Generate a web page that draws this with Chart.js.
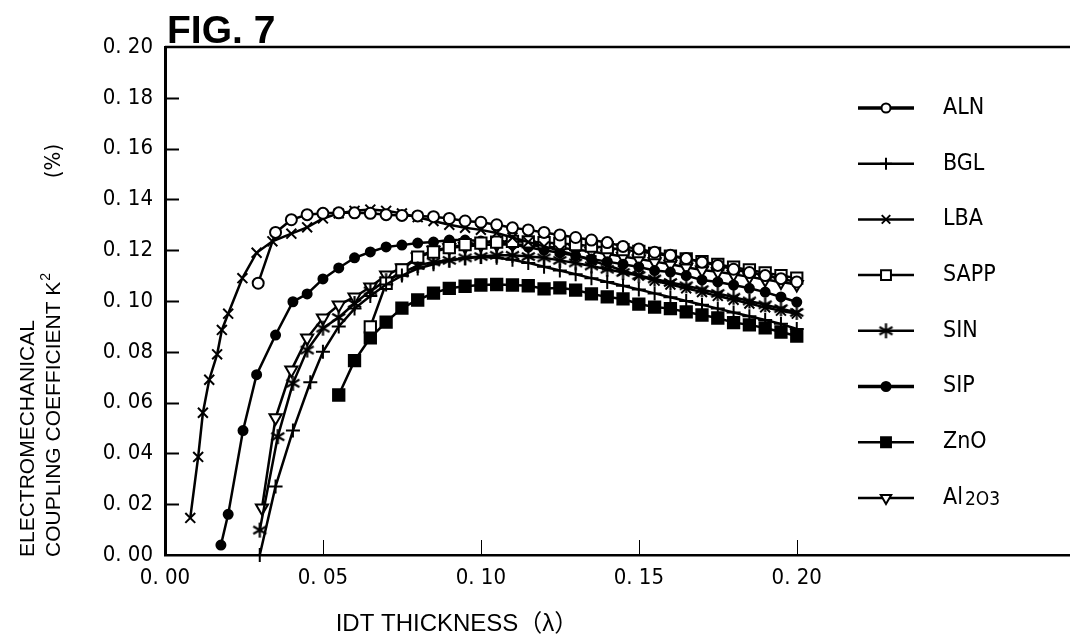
<!DOCTYPE html>
<html>
<head>
<meta charset="utf-8">
<script src="https://cdn.jsdelivr.net/npm/chart.js@4/dist/chart.umd.min.js"></script>
<style>
  html, body { margin: 0; padding: 0; background: #fff; }
  #wrap { width: 1070px; height: 643px; }
</style>
</head>
<body>
<div id="wrap"><canvas id="fig7" width="1070" height="643"></canvas></div>
<script>
// ── FIG. 7 : coupling coefficient vs IDT thickness ──
const xTicks = [0, 0.05, 0.10, 0.15, 0.20];
const yTicks = [0, 0.02, 0.04, 0.06, 0.08, 0.10, 0.12, 0.14, 0.16, 0.18, 0.20];
const seriesNames = ['ALN', 'BGL', 'LBA', 'SAPP', 'SIN', 'SIP', 'ZnO', 'Al2O3'];

const alnX = [0.0295, 0.035, 0.040, 0.045, 0.050, 0.055, 0.060, 0.065, 0.070, 0.075, 0.080, 0.085, 0.090, 0.095, 0.100, 0.105, 0.110, 0.115, 0.120, 0.125, 0.130, 0.135, 0.140, 0.145, 0.150, 0.155, 0.160, 0.165, 0.170, 0.175, 0.180, 0.185, 0.190, 0.195, 0.200];
const alnY = [0.107, 0.127, 0.132, 0.134, 0.1345, 0.1347, 0.1347, 0.1345, 0.134, 0.1337, 0.1335, 0.1332, 0.1325, 0.1315, 0.131, 0.130, 0.1288, 0.128, 0.127, 0.126, 0.125, 0.124, 0.123, 0.1215, 0.1205, 0.1192, 0.118, 0.1167, 0.1153, 0.114, 0.1125, 0.1112, 0.110, 0.1088, 0.1075];

const bglX = [0.030, 0.035, 0.0405, 0.046, 0.050, 0.055, 0.060, 0.065, 0.070, 0.075, 0.080, 0.085, 0.090, 0.095, 0.100, 0.105, 0.110, 0.115, 0.120, 0.125, 0.130, 0.135, 0.140, 0.145, 0.150, 0.155, 0.160, 0.165, 0.170, 0.175, 0.180, 0.185, 0.190, 0.195, 0.200];
const bglY = [0.000, 0.027, 0.049, 0.068, 0.080, 0.090, 0.097, 0.102, 0.1065, 0.110, 0.1128, 0.1145, 0.116, 0.1168, 0.1173, 0.117, 0.1162, 0.115, 0.1135, 0.112, 0.1105, 0.109, 0.1075, 0.106, 0.1045, 0.103, 0.1015, 0.100, 0.0985, 0.097, 0.0955, 0.094, 0.0925, 0.091, 0.089];

const lbaX = [0.008, 0.0105, 0.012, 0.014, 0.0165, 0.018, 0.020, 0.0245, 0.029, 0.034, 0.040, 0.045, 0.050, 0.055, 0.060, 0.065, 0.070, 0.075, 0.080, 0.085, 0.090, 0.095, 0.100, 0.105, 0.110, 0.115, 0.120, 0.125, 0.130, 0.135, 0.140, 0.145, 0.150, 0.155, 0.160, 0.165, 0.170, 0.175, 0.180, 0.185, 0.190, 0.195, 0.200];
const lbaY = [0.0146, 0.0386, 0.056, 0.069, 0.079, 0.0886, 0.095, 0.109, 0.119, 0.1235, 0.1265, 0.129, 0.1325, 0.1345, 0.1355, 0.136, 0.1355, 0.1345, 0.133, 0.1315, 0.130, 0.1288, 0.128, 0.1268, 0.125, 0.1232, 0.1215, 0.1198, 0.118, 0.116, 0.114, 0.112, 0.110, 0.108, 0.1065, 0.105, 0.1035, 0.102, 0.1005, 0.099, 0.0975, 0.0962, 0.095];

const sappX = [0.065, 0.070, 0.075, 0.080, 0.085, 0.090, 0.095, 0.100, 0.105, 0.110, 0.115, 0.120, 0.125, 0.130, 0.135, 0.140, 0.145, 0.150, 0.155, 0.160, 0.165, 0.170, 0.175, 0.180, 0.185, 0.190, 0.195, 0.200];
const sappY = [0.0898, 0.107, 0.1122, 0.1173, 0.1193, 0.121, 0.1222, 0.1228, 0.1232, 0.1235, 0.1233, 0.123, 0.1226, 0.1222, 0.1216, 0.121, 0.1202, 0.1195, 0.1187, 0.1177, 0.1166, 0.1155, 0.1144, 0.1133, 0.1122, 0.1111, 0.110, 0.109];

const sinX = [0.030, 0.0357, 0.0405, 0.045, 0.050, 0.055, 0.060, 0.065, 0.070, 0.075, 0.080, 0.085, 0.090, 0.095, 0.100, 0.105, 0.110, 0.115, 0.120, 0.125, 0.130, 0.135, 0.140, 0.145, 0.150, 0.155, 0.160, 0.165, 0.170, 0.175, 0.180, 0.185, 0.190, 0.195, 0.200];
const sinY = [0.0098, 0.0466, 0.0676, 0.0807, 0.0893, 0.0935, 0.099, 0.104, 0.108, 0.111, 0.114, 0.1154, 0.116, 0.117, 0.1175, 0.118, 0.118, 0.1175, 0.117, 0.116, 0.115, 0.1138, 0.1125, 0.1112, 0.110, 0.1087, 0.1073, 0.106, 0.1045, 0.103, 0.1015, 0.100, 0.0985, 0.097, 0.0955];

const sipX = [0.0177, 0.020, 0.0247, 0.029, 0.035, 0.0405, 0.045, 0.050, 0.055, 0.060, 0.065, 0.070, 0.075, 0.080, 0.085, 0.090, 0.095, 0.100, 0.105, 0.110, 0.115, 0.120, 0.125, 0.130, 0.135, 0.140, 0.145, 0.150, 0.155, 0.160, 0.165, 0.170, 0.175, 0.180, 0.185, 0.190, 0.195, 0.200];
const sipY = [0.0039, 0.016, 0.049, 0.071, 0.0866, 0.0997, 0.1028, 0.1087, 0.113, 0.117, 0.1193, 0.1213, 0.122, 0.1228, 0.1232, 0.124, 0.124, 0.1236, 0.123, 0.1222, 0.1212, 0.120, 0.119, 0.1178, 0.1165, 0.1155, 0.1145, 0.1134, 0.112, 0.1114, 0.110, 0.1083, 0.1075, 0.1063, 0.105, 0.1035, 0.1016, 0.0996];

const znoX = [0.055, 0.060, 0.065, 0.070, 0.075, 0.080, 0.085, 0.090, 0.095, 0.100, 0.105, 0.110, 0.115, 0.120, 0.125, 0.130, 0.135, 0.140, 0.145, 0.150, 0.155, 0.160, 0.165, 0.170, 0.175, 0.180, 0.185, 0.190, 0.195, 0.200];
const znoY = [0.063, 0.0765, 0.0855, 0.0917, 0.0972, 0.1004, 0.1031, 0.105, 0.1058, 0.1063, 0.1065, 0.1063, 0.106, 0.1048, 0.1052, 0.1043, 0.1028, 0.1016, 0.1008, 0.0988, 0.0976, 0.097, 0.0957, 0.0945, 0.0933, 0.0915, 0.0906, 0.0894, 0.0878, 0.0862];

const al2o3X = [0.0307, 0.035, 0.040, 0.045, 0.050, 0.055, 0.060, 0.065, 0.070, 0.075, 0.080, 0.085, 0.090, 0.095, 0.100, 0.105, 0.110, 0.115, 0.120, 0.125, 0.130, 0.135, 0.140, 0.145, 0.150, 0.155, 0.160, 0.165, 0.170, 0.175, 0.180, 0.185, 0.190, 0.195, 0.200];
const al2o3Y = [0.0185, 0.054, 0.0728, 0.0854, 0.0933, 0.0984, 0.1016, 0.1055, 0.1102, 0.113, 0.1173, 0.120, 0.121, 0.1215, 0.122, 0.1222, 0.1222, 0.122, 0.1215, 0.121, 0.1203, 0.1195, 0.1185, 0.1175, 0.1165, 0.1155, 0.1145, 0.1133, 0.1122, 0.1115, 0.1105, 0.1095, 0.1085, 0.1075, 0.1065];

const NARROW = '"DejaVu Sans Condensed", "Liberation Sans Narrow", "DejaVu Sans", sans-serif';
const ARIAL = '"Liberation Sans", Arial, "Noto Sans CJK JP", sans-serif';

// six-armed asterisk for SIN
function makeAsterisk(size, lw) {
  const c = document.createElement('canvas');
  c.width = c.height = size;
  const g = c.getContext('2d');
  g.strokeStyle = '#000';
  g.lineWidth = lw;
  const m = size / 2, r = size / 2 - 1;
  g.beginPath();
  for (const a of [90, 30, 150]) {
    const t = a * Math.PI / 180;
    g.moveTo(m + Math.cos(t) * r, m - Math.sin(t) * r);
    g.lineTo(m - Math.cos(t) * r, m + Math.sin(t) * r);
  }
  g.stroke();
  return c;
}
const asterisk = makeAsterisk(17, 2.2);

function pts(xs, ys) { return xs.map((x, i) => ({ x, y: ys[i] })); }

const styles = [
  { style: 'circle', radius: 5.5, fill: '#fff', rot: 0, lw: 2.5 },
  { style: 'cross', radius: 7, fill: '#fff', rot: 0, lw: 2.5 },
  { style: 'crossRot', radius: 7, fill: '#fff', rot: 0, lw: 2.5 },
  { style: 'rect', radius: 8, fill: '#fff', rot: 0, lw: 2.5 },
  { style: asterisk, radius: 8, fill: '#fff', rot: 0, lw: 2.5 },
  { style: 'circle', radius: 4.5, fill: '#000', rot: 0, lw: 2.5 },
  { style: 'rect', radius: 8, fill: '#000', rot: 0, lw: 2.5 },
  { style: 'triangle', radius: 7, fill: '#fff', rot: 180, lw: 2.5 },
];
const allData = [pts(alnX, alnY), pts(bglX, bglY), pts(lbaX, lbaY), pts(sappX, sappY),
                 pts(sinX, sinY), pts(sipX, sipY), pts(znoX, znoY), pts(al2o3X, al2o3Y)];

const datasets = seriesNames.map((name, i) => ({
  label: name,
  data: allData[i],
  borderColor: '#000',
  borderWidth: styles[i].lw,
  pointStyle: styles[i].style,
  pointRadius: styles[i].radius,
  pointRotation: styles[i].rot,
  pointBackgroundColor: styles[i].fill,
  pointBorderColor: '#000',
  pointBorderWidth: 2,
  tension: 0,
  clip: false,
}));

const decor = {
  id: 'decor',
  afterDraw(chart) {
    const { ctx, chartArea: a, scales: { x, y } } = chart;
    ctx.save();
    ctx.strokeStyle = '#000';
    // top frame line
    ctx.lineWidth = 2.5;
    ctx.beginPath(); ctx.moveTo(a.left, a.top); ctx.lineTo(chart.width, a.top); ctx.stroke();
    // inward ticks
    ctx.lineWidth = 2;
    yTicks.slice(1, -1).forEach(v => {
      const py = Math.round(y.getPixelForValue(v)) + 0.5;
      ctx.beginPath(); ctx.moveTo(a.left, py); ctx.lineTo(a.left + 14, py); ctx.stroke();
    });
    ctx.lineWidth = 1;
    xTicks.slice(1).forEach(v => {
      const px = Math.round(x.getPixelForValue(v)) + 0.5;
      ctx.beginPath(); ctx.moveTo(px, a.bottom); ctx.lineTo(px, a.bottom - 15); ctx.stroke();
    });

    ctx.fillStyle = '#000';
    // title
    ctx.font = 'bold 39px ' + ARIAL;
    ctx.textAlign = 'left'; ctx.textBaseline = 'alphabetic';
    ctx.fillText('FIG. 7', 167, 43);

    // x axis title
    ctx.font = '24px ' + ARIAL;
    ctx.textAlign = 'center'; ctx.textBaseline = 'middle';
    ctx.fillText('IDT THICKNESS\uFF08\u03BB\uFF09', 457, 624);

    // y axis title, two rotated lines
    ctx.save();
    ctx.translate(28, 557); ctx.rotate(-Math.PI / 2);
    ctx.font = '21px ' + ARIAL; ctx.textAlign = 'left';
    ctx.fillText('ELECTROMECHANICAL', 0, 0);
    ctx.restore();
    ctx.save();
    ctx.translate(54, 557); ctx.rotate(-Math.PI / 2);
    ctx.font = '21px ' + ARIAL; ctx.textAlign = 'left';
    const s = 'COUPLING COEFFICIENT K';
    ctx.fillText(s, 0, 0);
    const w = ctx.measureText(s).width;
    ctx.font = '14px ' + ARIAL;
    ctx.fillText('2', w + 1, -8);
    ctx.restore();
    ctx.save();
    ctx.translate(54, 161); ctx.rotate(-Math.PI / 2);
    ctx.font = '22px ' + NARROW; ctx.textAlign = 'center';
    ctx.fillText('(%)', 0, 0);
    ctx.restore();

    // legend
    seriesNames.forEach((name, i) => {
      const ly = 108 + i * 55.7;
      const st = styles[i];
      ctx.lineWidth = (i === 0 || i === 5) ? 3.5 : 2.5;
      ctx.strokeStyle = '#000';
      ctx.beginPath(); ctx.moveTo(858, ly); ctx.lineTo(914, ly); ctx.stroke();
      ctx.fillStyle = st.fill;
      ctx.lineWidth = 2;
      Chart.helpers.drawPoint(ctx, {
        pointStyle: st.style, rotation: st.rot,
        radius: st.style === 'circle' ? 4.5 : st.radius - 1, borderWidth: 2
      }, 886, ly);
      ctx.fillStyle = '#000';
      ctx.textAlign = 'left'; ctx.textBaseline = 'middle';
      if (name === 'Al2O3') {
        ctx.font = '23px ' + NARROW;
        ctx.fillText('Al', 943, ly);
        const w2 = ctx.measureText('Al').width;
        ctx.font = '19px ' + NARROW;
        ctx.fillText('2O3', 943 + w2 + 2, ly + 2);
      } else {
        ctx.font = '23px ' + NARROW;
        ctx.fillText(name, 943, ly);
      }
    });
    ctx.restore();
  }
};

new Chart(document.getElementById('fig7'), {
  type: 'line',
  data: { datasets },
  options: {
    responsive: false,
    devicePixelRatio: 1,
    animation: false,
    layout: { autoPadding: false, padding: { top: 47, right: 0, left: 0, bottom: 0 } },
    plugins: { legend: { display: false }, tooltip: { enabled: false } },
    scales: {
      x: {
        type: 'linear', min: 0, max: 0.2865,
        afterBuildTicks: s => { s.ticks = xTicks.map(v => ({ value: v })); },
        afterFit: s => { s.height = 88; },
        grid: { display: false, drawTicks: false },
        border: { display: true, color: '#000', width: 2.5 },
        ticks: {
          padding: 10, color: '#000', maxRotation: 0, autoSkip: false,
          font: { family: NARROW, size: 22 },
          callback: v => v.toFixed(2).replace('.', '. ')
        }
      },
      y: {
        min: 0, max: 0.2,
        afterBuildTicks: s => { s.ticks = yTicks.map(v => ({ value: v })); },
        afterFit: s => { s.width = 165; },
        grid: { display: false, drawTicks: false },
        border: { display: true, color: '#000', width: 3 },
        ticks: {
          padding: 12, color: '#000',
          font: { family: NARROW, size: 22 },
          callback: v => v.toFixed(2).replace('.', '. ')
        }
      }
    }
  },
  plugins: [decor]
});
</script>
</body>
</html>
